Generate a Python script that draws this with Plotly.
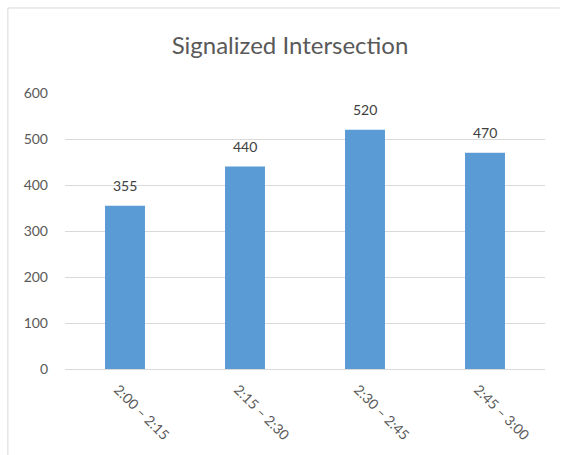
import plotly.graph_objects as go

categories = ["2:00 – 2:15", "2:15 – 2:30", "2:30 – 2:45", "2:45 – 3:00"]
values = [355, 440, 520, 470]
y_ticks = [0, 100, 200, 300, 400, 500, 600]

fig = go.Figure()
fig.add_trace(go.Bar(
    x=categories, y=values,
    marker=dict(color="#5B9BD5", line=dict(width=0)),
    width=0.333,
    hoverinfo="x+y",
))

for c, v in zip(categories, values):
    fig.add_annotation(x=c, y=v, text=str(v), showarrow=False,
                       yshift=20, font=dict(size=14, color="#404040"))

fig.update_layout(
    width=567, height=455,
    margin=dict(l=65, r=22, t=93, b=86),
    paper_bgcolor="white", plot_bgcolor="white",
    font=dict(family="Lato, Open Sans, sans-serif", color="#595959", size=14),
    title=dict(text="Signalized Intersection", x=290 / 567, xanchor="center",
               y=0.9, yanchor="middle", yref="container",
               font=dict(size=24, color="#595959")),
    showlegend=False,
    xaxis=dict(showgrid=False, showline=True, linecolor="#d9d9d9", linewidth=1,
               tickangle=45, tickfont=dict(size=14, color="#595959"),
               ticks="", ticklabelshift=-7, ticklabelstandoff=6),
    yaxis=dict(range=[0, 600], tickvals=y_ticks, showgrid=True,
               gridcolor="#d9d9d9", gridwidth=1, zeroline=False,
               showline=False, ticks="", ticklen=0, ticklabelstandoff=16,
               tickfont=dict(size=14, color="#595959")),
    shapes=[
        dict(type="line", xref="paper", yref="paper", x0=-0.119, x1=-0.119,
             y0=-0.32, y1=1.308, line=dict(color="#d9d9d9", width=1)),
        dict(type="line", xref="paper", yref="paper", x0=-0.119, x1=1.031,
             y0=1.308, y1=1.308, line=dict(color="#d9d9d9", width=1)),
    ],
)

fig.write_html("out.html")
